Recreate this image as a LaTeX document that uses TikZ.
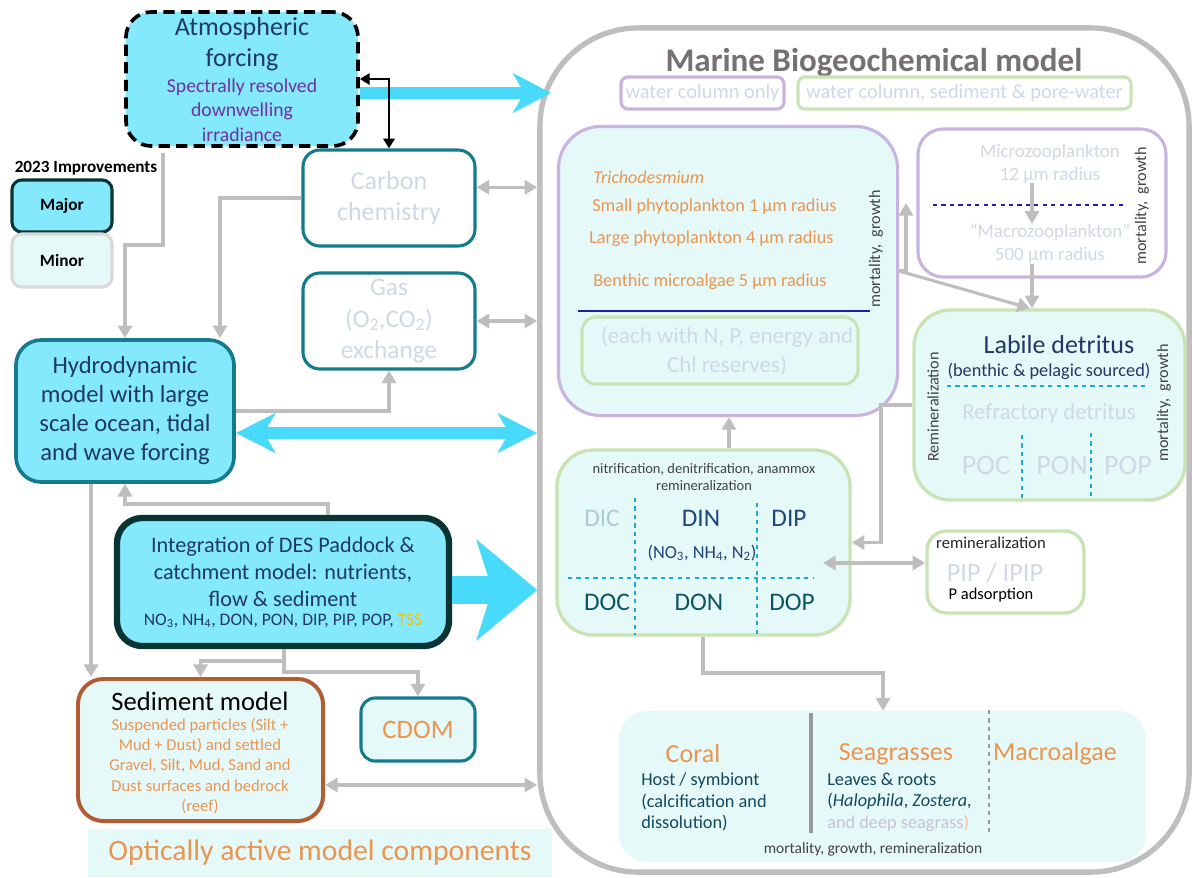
\documentclass[tikz,border=0pt]{standalone}
\usepackage{fontspec}
\setmainfont{Carlito}
\usetikzlibrary{arrows.meta,calc}
\definecolor{cyanFill}{RGB}{132,233,253}
\definecolor{lightFill}{RGB}{230,249,249}
\definecolor{tealLine}{RGB}{20,122,140}
\definecolor{darkLine}{RGB}{8,52,52}
\definecolor{navyText}{RGB}{32,56,100}
\definecolor{purpleText}{RGB}{112,48,160}
\definecolor{orangeText}{RGB}{232,150,82}
\definecolor{paleText}{RGB}{208,216,232}
\definecolor{connGray}{RGB}{190,190,190}
\definecolor{titleGray}{RGB}{118,113,113}
\definecolor{lilacLine}{RGB}{200,180,224}
\definecolor{greenLine}{RGB}{200,228,180}
\definecolor{arrowCyan}{RGB}{72,218,250}
\definecolor{dashCyan}{RGB}{30,170,210}
\definecolor{dashNavy}{RGB}{30,30,170}
\definecolor{brownLine}{RGB}{178,92,52}
\definecolor{docTeal}{RGB}{12,84,100}
\definecolor{dicPale}{RGB}{170,205,210}
\definecolor{dinNavy}{RGB}{30,70,125}
\definecolor{tssYellow}{RGB}{255,192,0}
\definecolor{benthicText}{RGB}{18,72,95}
\definecolor{seaLilac}{RGB}{200,192,215}
\definecolor{textGray}{RGB}{64,64,64}
\newcommand{\fs}[2]{\fontsize{#1}{#2}\selectfont}

\begin{document}
\begin{tikzpicture}[x=0.025cm, y=-0.025cm,
  roundbox/.style={rounded corners=12pt, align=center, inner sep=1pt},
  majorbox/.style={roundbox, draw=tealLine, fill=cyanFill, line width=2.6pt},
  minorbox/.style={roundbox, draw=tealLine, fill=white, line width=2.2pt},
  lilacbox/.style={roundbox, draw=lilacLine, line width=2.2pt},
  greenbox/.style={roundbox, draw=greenLine, line width=2.2pt},
  txt/.style={inner sep=0pt, align=center},
  sidenote/.style={inner sep=0pt, rotate=90, text=textGray, font=\fs{11.5}{13}},
  link/.style={draw=connGray, line width=2.2pt, -{Triangle[length=9pt,width=10pt]}},
  twolink/.style={link, {Triangle[length=9pt,width=10pt]}-{Triangle[length=9pt,width=10pt]}},
  bigflow/.style={draw=arrowCyan, line width=9pt, -{Stealth[length=27pt,width=28pt,inset=8pt]}},
  divider/.style={draw=dashCyan, dashed, line width=1pt}
]

% Page and background
\useasboundingbox (0,0) rectangle (1192,877);
\fill[white] (0,0) rectangle (1192,877);

% Legend
\node[txt, font=\bfseries\fs{12.2}{14}] (legendhead) at (86,168) {2023 Improvements};
\node[roundbox, draw=darkLine, fill=cyanFill, line width=2.2pt, rounded corners=7pt,
      minimum width=2.5cm, minimum height=1.3cm, font=\bfseries\fs{12.3}{15}] (major) at (62,206) {Major};
\node[roundbox, draw=black!15, fill=lightFill, line width=2.2pt, rounded corners=7pt,
      minimum width=2.5cm, minimum height=1.325cm, font=\bfseries\fs{12.3}{15}] (minor) at (62,260.5) {Minor};

% Atmospheric forcing
\node[roundbox, fill=cyanFill, draw=black, line width=2.6pt, dash pattern=on 8pt off 4.5pt,
      rounded corners=18pt, minimum width=5.8cm, minimum height=3.35cm] (atmo) at (242,79) {};
\node[txt, text=navyText, font=\fs{18.5}{22}] (atmotitle) at (242,44) {Atmospheric\\forcing};
\node[txt, text=purpleText, font=\fs{14}{17.4}] (atmosub) at (242,110) {Spectrally resolved\\downwelling\\irradiance};

% Carbon chemistry and gas exchange
\node[minorbox, minimum width=4.3cm, minimum height=2.4cm, text=paleText, font=\fs{18.5}{22}] (carbon) at (389,198) {Carbon\\chemistry};
\node[minorbox, minimum width=4.3cm, minimum height=2.4cm, text=paleText, font=\fs{18}{22.4}] (gas) at (389,321) {Gas\\(O\textsubscript{2},CO\textsubscript{2})\\exchange};

% Hydrodynamic model
\node[majorbox, rounded corners=18pt, minimum width=5.45cm, minimum height=3.55cm,
      text=navyText, font=\fs{17.5}{20.6}] (hydro) at (125,411) {Hydrodynamic\\model with large\\scale ocean, tidal\\and wave forcing};

% Catchment model
\node[roundbox, draw=darkLine, fill=cyanFill, line width=4.5pt, rounded corners=18pt,
      minimum width=8.3cm, minimum height=3.2cm] (integ) at (283,582) {};
\node[txt, text=navyText, font=\fs{15.8}{19.2}] (integtext) at (283,572) {Integration of DES Paddock \&\\catchment model: nutrients,\\flow \& sediment};
\node[txt, text=navyText, font=\fs{12.5}{15}] (integlist) at (283,621) {NO\textsubscript{3}, NH\textsubscript{4}, DON, PON, DIP, PIP, POP, \textcolor{tssYellow}{TSS}};

% Sediment model and CDOM
\node[roundbox, draw=brownLine, fill=lightFill, line width=2.8pt, rounded corners=18pt,
      minimum width=6.125cm, minimum height=3.55cm] (sed) at (200.5,750) {};
\node[txt, font=\fs{18.9}{22}] (sedtitle) at (200,701) {Sediment model};
\node[txt, text=orangeText, font=\fs{11.8}{14.3}] (sedtext) at (200,766) {Suspended particles (Silt +\\Mud + Dust) and settled\\Gravel, Silt, Mud, Sand and\\Dust surfaces and bedrock\\(reef)};
\node[roundbox, draw=tealLine, fill=lightFill, line width=2.2pt, rounded corners=10pt,
      minimum width=2.85cm, minimum height=1.575cm, text=orangeText, font=\fs{19}{23}] (cdom) at (418,729.5) {CDOM};

% Marine biogeochemical model
\node[roundbox, draw=connGray, line width=3.8pt, rounded corners=70pt,
      minimum width=16.225cm, minimum height=21.1cm] (marine) at (864.5,450) {};
\node[txt, text=titleGray, font=\bfseries\fs{23.5}{27}] (marinetitle) at (874,63) {Marine Biogeochemical model};
\node[lilacbox, rounded corners=5pt, minimum width=4.075cm, minimum height=0.8cm,
      text=paleText, font=\fs{14.5}{16}] (wconly) at (702.5,93) {water column only};
\node[greenbox, rounded corners=5pt, minimum width=8.325cm, minimum height=0.8cm,
      text=paleText, font=\fs{14.5}{16}] (wcsed) at (964.5,93) {water column, sediment \& pore-water};

% Phytoplankton
\node[lilacbox, fill=lightFill, rounded corners=30pt, minimum width=8.475cm, minimum height=7.225cm] (phyto) at (728,271) {};
\node[txt, anchor=west, text=orangeText, font=\itshape\fs{12.8}{15}] (tricho) at (593,177) {Trichodesmium};
\node[txt, anchor=west, text=orangeText, font=\fs{13}{15}] (smallphyto) at (592,207) {Small phytoplankton 1 µm radius};
\node[txt, anchor=west, text=orangeText, font=\fs{13}{15}] (largephyto) at (589,239) {Large phytoplankton 4 µm radius};
\node[txt, anchor=west, text=orangeText, font=\fs{13}{15}] (benthicalgae) at (593,282) {Benthic microalgae 5 µm radius};
\draw[dashNavy, line width=1.5pt] (578,311) -- (870,311);
\node[sidenote] (phytorates) at (876,249) {mortality,~~growth};
\node[greenbox, fill=lightFill, rounded corners=10pt, minimum width=6.9cm, minimum height=1.675cm] (chl) at (720,350.5) {};
\node[txt, text=paleText, font=\fs{16.3}{20.6}] (chltext) at (727,351) {(each with N, P, energy and\\Chl reserves)};

% Zooplankton
\node[lilacbox, fill=white, rounded corners=18pt, minimum width=6.2cm, minimum height=3.7cm] (zoo) at (1042,203) {};
\node[txt, text=paleText, font=\fs{13.5}{16.4}] (micro) at (1050,163.5) {Microzooplankton\\12 µm radius};
\node[txt, text=paleText, font=\fs{13.5}{16.4}] (macro) at (1050,244) {“Macrozooplankton”\\500 µm radius};
\draw[dashNavy, dashed, line width=1pt] (933,205) -- (1124,205);
\draw[link] (micro.south -| 1032,0) -- (macro.north -| 1032,0);
\node[sidenote] (zoorates) at (1142,206) {mortality,~~growth};

% Detritus
\node[greenbox, fill=lightFill, line width=2.4pt, rounded corners=26pt, minimum width=6.775cm, minimum height=4.75cm] (labile) at (1049.5,405) {};
\node[txt, text=navyText, font=\fs{18.5}{21}] (labiletitle) at (1059,345) {Labile detritus};
\node[txt, text=navyText, font=\fs{13}{16}] (labilesrc) at (1049,371) {(benthic \& pelagic sourced)};
\draw[divider] (947,386) -- (1147,386);
\node[txt, text=paleText, font=\fs{16.2}{18}] (refractory) at (1049,413) {Refractory detritus};
\node[txt, text=paleText, font=\fs{20}{24}] (poc) at (986,465) {POC};
\node[txt, text=paleText, font=\fs{20}{24}] (pon) at (1062,465) {PON};
\node[txt, text=paleText, font=\fs{20}{24}] (pop) at (1128,465) {POP};
\draw[divider] (1022,435) -- (1022,498);
\draw[divider] (1091,433) -- (1091,497);
\node[sidenote] (remin) at (933,407) {Remineralization};
\node[sidenote] (labilerates) at (1164,403) {mortality,~~growth};

% Dissolved pools
\node[greenbox, fill=lightFill, line width=2.4pt, rounded corners=26pt, minimum width=7.325cm, minimum height=4.625cm] (diss) at (703.5,542.5) {};
\node[txt, text=textGray, font=\fs{10.3}{11.4}] (dissproc) at (704,477) {nitrification, denitrification, anammox\\remineralization};
\node[txt, text=dicPale, font=\fs{18}{21}] (dic) at (602,518) {DIC};
\node[txt, text=dinNavy, font=\fs{18}{21}] (din) at (701,518) {DIN};
\node[txt, text=dinNavy, font=\fs{18}{21}] (dip) at (789,518) {DIP};
\node[txt, text=dinNavy, font=\fs{13}{15}] (dinforms) at (702,553) {(NO\textsubscript{3}, NH\textsubscript{4}, N\textsubscript{2})};
\node[txt, text=docTeal, font=\fs{18}{21}] (doc) at (607,602) {DOC};
\node[txt, text=docTeal, font=\fs{18}{21}] (don) at (699,602) {DON};
\node[txt, text=docTeal, font=\fs{18}{21}] (dop) at (792,602) {DOP};
\draw[divider] (635,498) -- (635,635);
\draw[divider] (757,503) -- (757,635);
\draw[divider] (568,578) -- (814,578);

% Particulate inorganic P
\node[greenbox, fill=white, line width=2.4pt, rounded corners=14pt, minimum width=3.925cm, minimum height=2.05cm] (pip) at (1005.5,572) {};
\node[txt, text=black!85, font=\fs{11.8}{13}] (piptop) at (991,543) {remineralization};
\node[txt, text=paleText, font=\fs{18.7}{22}] (piptitle) at (995,573) {PIP / IPIP};
\node[txt, text=black, font=\fs{11.7}{13}] (pipbottom) at (991,595) {P adsorption};

% Benthic plants and coral
\node[fill=lightFill, rounded corners=20pt, minimum width=13.175cm, minimum height=3.775cm] (benthic) at (882.5,786.5) {};
\node[txt, text=orangeText, font=\fs{18.5}{22}] (coral) at (693,754) {Coral};
\node[txt, anchor=west, align=left, text=benthicText, font=\fs{13}{15.2}] (coraltext) at (641,802) {Host / symbiont\\(calcification and\\dissolution)};
\draw[black!40, line width=3.5pt] (811,713) -- (811,833);
\node[txt, text=orangeText, font=\fs{18.5}{22}] (seagrass) at (896,754) {Seagrasses};
\node[txt, anchor=west, align=left, text=benthicText, font=\fs{13}{15.2}] (seagrasstext) at (827,802) {Leaves \& roots\\(\textit{Halophila}, \textit{Zostera,}\\\textcolor{seaLilac}{and deep seagrass}\textcolor{orangeText!60}{)}};
\draw[black!40, dashed, line width=1pt] (989,710) -- (989,833);
\node[txt, text=orangeText, font=\fs{18.5}{22}] (macroalgae) at (1055,754) {Macroalgae};
\node[txt, text=textGray, font=\fs{11}{13}] (benthicrates) at (873,849) {mortality, growth, remineralization};

% Optically active label
\node[fill=lightFill, minimum width=11.6cm, minimum height=1.2cm, inner sep=0pt,
      text=orangeText, font=\fs{21.1}{25}] (optic) at (320,853) {Optically active model components};

% Big cyan flows
\coordinate (atmoin) at (551,93);
\draw[bigflow] (atmo.east |- atmoin) -- (atmoin);
\draw[bigflow, {Stealth[length=28pt,width=28pt,inset=8pt]}-{Stealth[length=28pt,width=28pt,inset=8pt]}] (hydro.east |- 0,433) -- (marine.west |- 0,433);
\draw[bigflow, line width=20.6pt, -{Stealth[length=43pt,width=71pt,inset=11pt]}] (integ.east |- 0,590) -- (marine.west |- 0,590);

% Atmosphere to carbon
\draw[black, line width=2pt, {Triangle[length=7pt,width=8pt]}-{Triangle[length=7pt,width=8pt]}] (atmo.east) -| (carbon.north);

% Grey links on the left
\draw[link, shorten <=4pt] (atmo.south -| 163,0) -- (163,245) -| (hydro.north);
\draw[link] (carbon.west) -| (hydro.north -| 220,0);
\draw[twolink] (carbon.7) -- (carbon.7 -| marine.west);
\draw[twolink] (gas.east) -- (gas.east -| marine.west);
\draw[link] (hydro.east) -| (gas.south);
\draw[link] (integ.north -| 328,0) -- (328,504) -| (hydro.south);
\draw[link] (hydro.south -| 91,0) -- (sed.north -| 91,0);
\coordinate (integfork) at (284,661);
\draw[link] (integ.south -| integfork) -- (integfork) -| (sed.north);
\draw[link] (integfork) -- ++(0,11) -| (cdom.north);
\draw[twolink] (sed.east |- 0,785) -- (marine.west |- 0,785);

% Grey links inside the marine model
\draw[link] (diss.north -| 729,0) -- (phyto.south -| 729,0);
\draw[link] (labile.west) -- (881,405) |- (diss.east);
\draw[link] (phyto.east) -- (906,271) -- (zoo.west -| 906,0);
\draw[link] (phyto.east) -- (labile.north -| 1030,0);
\draw[link] (macro.south -| 1032,0) -- (labile.north -| 1032,0);
\coordinate (dipin) at (823,563);
\draw[twolink] (dipin) -- (pip.west |- dipin);
\draw[link] (diss.south -| 703,0) -- (703,673) -| (benthic.north -| 883,0);

\end{tikzpicture}
\end{document}
